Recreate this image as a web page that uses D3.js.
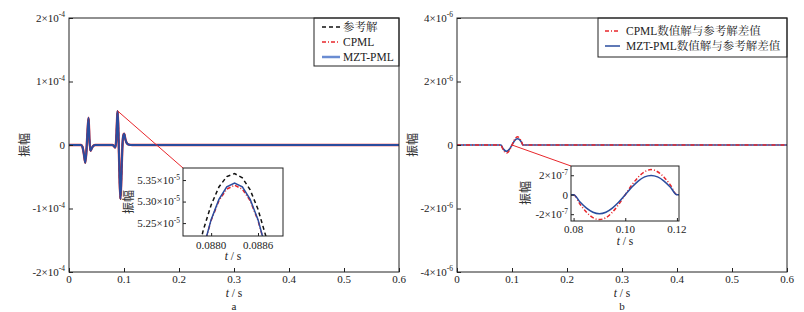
<!DOCTYPE html>
<html><head><meta charset="utf-8">
<script src="https://cdn.jsdelivr.net/npm/d3@7"></script>
<style>body{margin:0;background:#fff}svg{display:block}</style>
</head><body>
<script>
// ---------- DATA ----------
// Panel a main traces (t in s, amplitude in units of 1e-5)
const tMain = [0, 0.022, 0.0245, 0.027, 0.0296, 0.0315, 0.0335, 0.0355, 0.0372, 0.039, 0.0415, 0.044, 0.048,
  0.079, 0.082, 0.084, 0.0857, 0.0872, 0.0883, 0.0895, 0.0908, 0.0922, 0.0936, 0.0952, 0.0968, 0.0985, 0.1002, 0.1025, 0.105, 0.109, 0.115, 0.6];
const refMain  = [0, 0, -0.3, -1.4, -2.8, -1.2, 1.8, 4.3, 0.8, -0.9, -0.5, -0.15, 0,
  0, -0.2, -0.4, 0.6, 3.6, 5.365, 3.2, -1.2, -6.0, -8.5, -5.2, -0.8, 1.4, 1.8, 0.9, 0.3, 0.05, 0, 0];
const cpmlMain = [0, 0, -0.3, -1.4, -2.78, -1.2, 1.8, 4.28, 0.8, -0.9, -0.5, -0.15, 0,
  0, -0.2, -0.4, 0.6, 3.58, 5.338, 3.18, -1.2, -5.98, -8.47, -5.2, -0.8, 1.4, 1.78, 0.9, 0.3, 0.05, 0, 0];
const mztMain  = [0, 0, -0.3, -1.4, -2.78, -1.2, 1.8, 4.29, 0.8, -0.9, -0.5, -0.15, 0,
  0, -0.2, -0.4, 0.6, 3.58, 5.343, 3.19, -1.2, -5.99, -8.48, -5.2, -0.8, 1.4, 1.79, 0.9, 0.3, 0.05, 0, 0];

// Panel a inset (t in s, amplitude in units of 1e-5)
const tInsetA    = [0.0877, 0.0878, 0.0879, 0.0880, 0.0881, 0.0882, 0.0883, 0.0884, 0.0885, 0.0886, 0.0887, 0.0888, 0.0889];
const refInsetA  = [5.065, 5.158, 5.234, 5.292, 5.334, 5.358, 5.365, 5.355, 5.327, 5.282, 5.220, 5.141, 5.044];
const cpmlInsetA = [5.010, 5.110, 5.192, 5.256, 5.302, 5.329, 5.338, 5.329, 5.302, 5.256, 5.192, 5.110, 5.010];
const mztInsetA  = [5.001, 5.106, 5.191, 5.258, 5.305, 5.334, 5.343, 5.334, 5.305, 5.258, 5.191, 5.106, 5.001];

// Panel b differences (t in s, amplitude in units of 1e-7)
const tDiff    = [0, 0.079, 0.080, 0.0825, 0.085, 0.0875, 0.090, 0.0925, 0.095, 0.0975, 0.100, 0.1025, 0.105, 0.1075, 0.110, 0.1125, 0.115, 0.1175, 0.120, 0.1208, 0.6];
const cpmlDiff = [0, 0, 0, -0.98, -1.80, -2.36, -2.55, -2.36, -1.80, -0.98, 0, 0.98, 1.80, 2.36, 2.58, 2.36, 1.80, 0.98, 0, 0, 0];
const mztDiff  = [0, 0, 0, -0.75, -1.38, -1.80, -1.95, -1.80, -1.38, -0.75, 0, 0.76, 1.40, 1.83, 1.98, 1.83, 1.40, 0.76, 0, 0, 0];

// Ticks
const xTicksMain = [0, 0.1, 0.2, 0.3, 0.4, 0.5, 0.6];
const xTickTextMain = ["0", "0.1", "0.2", "0.3", "0.4", "0.5", "0.6"];
const yTicksA = [-2e-4, -1e-4, 0, 1e-4, 2e-4];
const yTickTextA = [["-2×10", "-4"], ["-1×10", "-4"], ["0", ""], ["1×10", "-4"], ["2×10", "-4"]];
const yTicksB = [-4e-6, -2e-6, 0, 2e-6, 4e-6];
const yTickTextB = [["-4×10", "-6"], ["-2×10", "-6"], ["0", ""], ["2×10", "-6"], ["4×10", "-6"]];
const xTicksInA = [0.0880, 0.0886];
const xTickTextInA = ["0.0880", "0.0886"];
const yTicksInA = [5.25e-5, 5.30e-5, 5.35e-5];
const yTickTextInA = [["5.25×10", "-5"], ["5.30×10", "-5"], ["5.35×10", "-5"]];
const xTicksInB = [0.08, 0.10, 0.12];
const xTickTextInB = ["0.08", "0.10", "0.12"];
const yTicksInB = [-2e-7, 0, 2e-7];
const yTickTextInB = [["-2×10", "-7"], ["0", ""], ["2×10", "-7"]];

const legendA = ["参考解", "CPML", "MZT-PML"];
const legendB = ["CPML数值解与参考解差值", "MZT-PML数值解与参考解差值"];

// ---------- STYLE ----------
const SERIF = "'Liberation Serif','Times New Roman','Noto Serif CJK SC','Noto Sans CJK SC',serif";
const CJK = "'Noto Sans CJK SC',sans-serif";
const BLUE = "#2a4c9e", BLUE_L = "#6a8cd2", RED = "#e8262b", BLACK = "#111";
const DASH_REF = "4,3", DASH_CPML = "4,2,1,2";

const svg = d3.select("body").append("svg").attr("width", 804).attr("height", 312);
const defs = svg.append("defs");

function sciLabel(g, x, y, parts, anchor, fs) {
  const t = g.append("text").attr("x", x).attr("y", y).attr("text-anchor", anchor)
    .attr("font-family", SERIF).attr("font-size", fs).attr("fill", "#222");
  t.append("tspan").text(parts[0]);
  if (parts[1]) t.append("tspan").attr("font-size", fs * 0.68).attr("dy", -fs * 0.4).text(parts[1]);
  return t;
}
function axisLabel(g, x, y, fs) {
  const t = g.append("text").attr("x", x).attr("y", y).attr("text-anchor", "middle")
    .attr("font-family", SERIF).attr("font-size", fs).attr("fill", "#222");
  t.append("tspan").attr("font-style", "italic").text("t");
  t.append("tspan").text(" / s");
}
function yLabel(g, x, y, fs) {
  g.append("text").attr("transform", `translate(${x},${y}) rotate(-90)`).attr("text-anchor", "middle")
    .attr("dominant-baseline", "central").attr("font-family", CJK).attr("font-size", fs).attr("fill", "#333").text("振幅");
}
function frame(g, x0, x1, y0, y1, col) {
  g.append("rect").attr("x", x0).attr("y", y0).attr("width", x1 - x0).attr("height", y1 - y0)
    .attr("fill", "none").attr("stroke", col || "#222").attr("stroke-width", 1);
}
function drawAxes(g, x, y, xT, xTT, yT, yTT, fs, xLabY, yLabX, tick) {
  const r = x.range(), d = y.range();
  g.append("g").attr("transform", `translate(0,${d[0]})`)
    .call(d3.axisBottom(x).tickValues(xT).tickSizeInner(-tick).tickSizeOuter(0).tickFormat(""))
    .call(s => { s.select(".domain").remove(); s.selectAll("line").attr("stroke", "#222"); });
  g.append("g").attr("transform", `translate(${r[0]},0)`)
    .call(d3.axisLeft(y).tickValues(yT).tickSizeInner(-tick).tickSizeOuter(0).tickFormat(""))
    .call(s => { s.select(".domain").remove(); s.selectAll("line").attr("stroke", "#222"); });
  xT.forEach((v, i) => {
    g.append("text").attr("x", x(v)).attr("y", xLabY).attr("text-anchor", "middle")
      .attr("font-family", SERIF).attr("font-size", fs).attr("fill", "#222").text(xTT[i]);
  });
  yT.forEach((v, i) => sciLabel(g, yLabX, y(v) + fs * 0.35, yTT[i], "end", fs));
}
function clip(id, x0, x1, y0, y1) {
  defs.append("clipPath").attr("id", id).append("rect").attr("x", x0).attr("y", y0).attr("width", x1 - x0).attr("height", y1 - y0);
}
function path(g, xs, ys, x, y, col, w, dash, clipId, curve) {
  const pts = xs.map((t, i) => [t, ys[i]]);
  const ln = d3.line().x(p => x(p[0])).y(p => y(p[1])).curve(curve || d3.curveLinear);
  g.append("path").attr("d", ln(pts)).attr("fill", "none").attr("stroke", col).attr("stroke-width", w)
    .attr("stroke-dasharray", dash || null).attr("clip-path", clipId ? `url(#${clipId})` : null);
}

// ---------- PANEL A ----------
const gA = svg.append("g");
const xA = d3.scaleLinear().domain([0, 0.6]).range([69, 399]);
const yA = d3.scaleLinear().domain([-2e-4, 2e-4]).range([272, 18]);
clip("cA", 69, 399, 18, 272);
const refA = refMain.map(v => v * 1e-5), cpA = cpmlMain.map(v => v * 1e-5), mzA = mztMain.map(v => v * 1e-5);
path(gA, tMain, refA, xA, yA, BLACK, 1.5, DASH_REF, "cA", d3.curveMonotoneX);
path(gA, tMain, cpA, xA, yA, RED, 2.4, null, "cA", d3.curveMonotoneX);
path(gA, tMain, mzA, xA, yA, BLUE, 2.0, null, "cA", d3.curveMonotoneX);
frame(gA, 69, 399, 18, 272);
drawAxes(gA, xA, yA, xTicksMain, xTickTextMain, yTicksA, yTickTextA, 11, 283, 65, 4);
axisLabel(gA, 234, 297, 11.5);
gA.append("text").attr("x", 234).attr("y", 310).attr("text-anchor", "middle").attr("font-family", SERIF).attr("font-size", 11).attr("fill", "#222").text("a");
yLabel(gA, 23, 145, 12);

// legend a
frame(gA, 314, 399, 18, 66);
const legA = [[BLACK, 1.5, DASH_REF], [RED, 1.3, DASH_CPML], [BLUE_L, 2.5, null]];
legendA.forEach((s, i) => {
  const yy = 27 + i * 15;
  gA.append("line").attr("x1", 322).attr("x2", 340).attr("y1", yy).attr("y2", yy)
    .attr("stroke", legA[i][0]).attr("stroke-width", legA[i][1]).attr("stroke-dasharray", legA[i][2]);
  gA.append("text").attr("x", 343).attr("y", yy + 4).attr("font-family", SERIF).attr("font-size", 11.5).attr("fill", "#222").text(s);
});

// connector a
gA.append("line").attr("x1", xA(0.0883)).attr("y1", yA(5.365e-5)).attr("x2", 183).attr("y2", 168).attr("stroke", RED).attr("stroke-width", 1);

// inset a
const xIA = d3.scaleLinear().domain([0.08764, 0.08892]).range([183, 283]);
const yIA = d3.scaleLinear().domain([5.22e-5, 5.378e-5]).range([236, 168]);
gA.append("rect").attr("x", 183).attr("y", 168).attr("width", 100).attr("height", 68).attr("fill", "#fff");
clip("cIA", 183, 283, 168, 236);
path(gA, tInsetA, refInsetA.map(v => v * 1e-5), xIA, yIA, BLACK, 1.5, DASH_REF, "cIA");
path(gA, tInsetA, cpmlInsetA.map(v => v * 1e-5), xIA, yIA, RED, 1.5, DASH_CPML, "cIA");
path(gA, tInsetA, mztInsetA.map(v => v * 1e-5), xIA, yIA, BLUE, 1.5, null, "cIA");
frame(gA, 183, 283, 168, 236);
drawAxes(gA, xIA, yIA, xTicksInA, xTickTextInA, yTicksInA, yTickTextInA, 11, 249, 180, 3);
axisLabel(gA, 233, 260, 11.5);
yLabel(gA, 127, 202, 12);

// ---------- PANEL B ----------
const gB = svg.append("g");
const xB = d3.scaleLinear().domain([0, 0.6]).range([457, 787]);
const yB = d3.scaleLinear().domain([-4e-6, 4e-6]).range([272, 18]);
clip("cB", 457, 787, 18, 272);
path(gB, tDiff, mztDiff.map(v => v * 1e-7), xB, yB, BLUE, 1.6, null, "cB", d3.curveMonotoneX);
path(gB, tDiff, cpmlDiff.map(v => v * 1e-7), xB, yB, RED, 1.4, DASH_CPML, "cB", d3.curveMonotoneX);
frame(gB, 457, 787, 18, 272);
drawAxes(gB, xB, yB, xTicksMain, xTickTextMain, yTicksB, yTickTextB, 11, 283, 453, 4);
axisLabel(gB, 622, 297, 11.5);
gB.append("text").attr("x", 622).attr("y", 310).attr("text-anchor", "middle").attr("font-family", SERIF).attr("font-size", 11).attr("fill", "#222").text("b");
yLabel(gB, 411, 145, 12);

// legend b
frame(gB, 598, 787, 18, 57);
const legB = [[RED, 1.3, DASH_CPML], [BLUE, 1.5, null]];
legendB.forEach((s, i) => {
  const yy = 31 + i * 15;
  gB.append("line").attr("x1", 605).attr("x2", 620).attr("y1", yy).attr("y2", yy)
    .attr("stroke", legB[i][0]).attr("stroke-width", legB[i][1]).attr("stroke-dasharray", legB[i][2]);
  gB.append("text").attr("x", 626).attr("y", yy + 4).attr("font-family", SERIF).attr("font-size", 11.5).attr("fill", "#222").text(s);
});

// connector b
gB.append("line").attr("x1", xB(0.1)).attr("y1", yB(0)).attr("x2", 571).attr("y2", 166).attr("stroke", RED).attr("stroke-width", 1);

// inset b
const xIB = d3.scaleLinear().domain([0.079, 0.1208]).range([571, 679]);
const yIB = d3.scaleLinear().domain([-2.7e-7, 2.95e-7]).range([221, 166]);
gB.append("rect").attr("x", 571).attr("y", 166).attr("width", 108).attr("height", 55).attr("fill", "#fff");
clip("cIB", 571, 679, 166, 221);
path(gB, tDiff, cpmlDiff.map(v => v * 1e-7), xIB, yIB, RED, 1.5, DASH_CPML, "cIB", d3.curveMonotoneX);
path(gB, tDiff, mztDiff.map(v => v * 1e-7), xIB, yIB, BLUE, 1.5, null, "cIB", d3.curveMonotoneX);
frame(gB, 571, 679, 166, 221);
drawAxes(gB, xIB, yIB, xTicksInB, xTickTextInB, yTicksInB, yTickTextInB, 11, 233, 568, 3);
axisLabel(gB, 625, 245, 11.5);
yLabel(gB, 524, 193, 12);
</script>
</body></html>
